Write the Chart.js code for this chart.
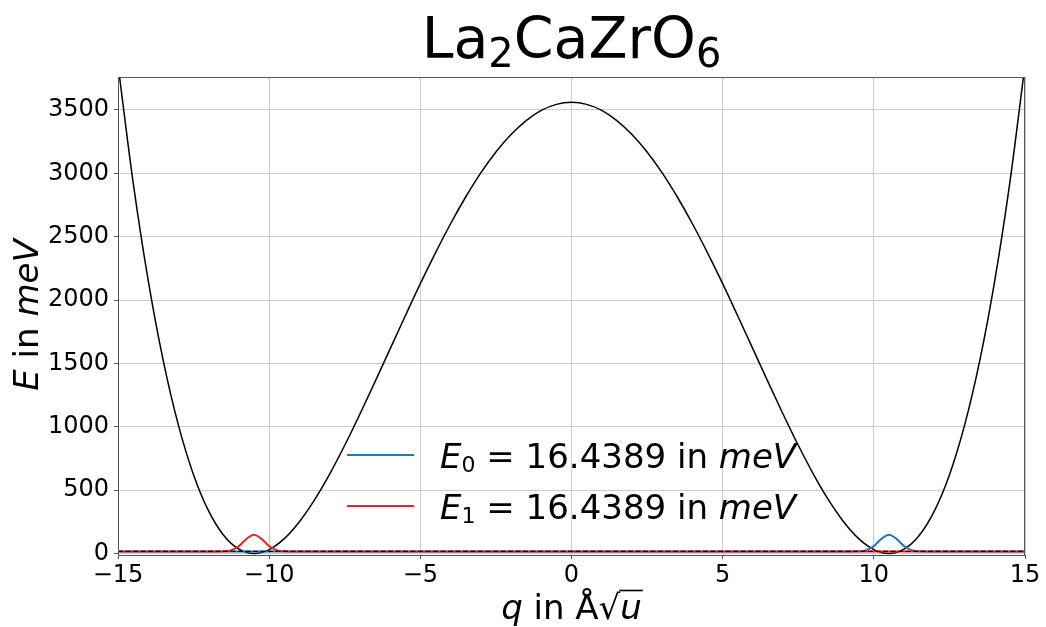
<!DOCTYPE html>
<html>
<head>
<meta charset="utf-8">
<script src="https://cdn.jsdelivr.net/npm/chart.js@4.4.1/dist/chart.umd.min.js"></script>
<style>
  html, body { margin: 0; padding: 0; background: #ffffff; }
  #wrap { width: 1046px; height: 627px; position: relative; }
</style>
</head>
<body>
<div id="wrap"><canvas id="c" width="1046" height="627"></canvas></div>
<script>
// ---------- data ----------
const qPot = [-15,-14.5,-14,-13.5,-13,-12.5,-12,-11.5,-11,-10.5,-10,-9.5,-9,-8.5,-8,-7.5,-7,-6.5,-6,-5.5,-5,-4.5,-4,-3.5,-3,-2.5,-2,-1.5,-1,-0.5,0,
              0.5,1,1.5,2,2.5,3,3.5,4,4.5,5,5.5,6,6.5,7,7.5,8,8.5,9,9.5,10,10.5,11,11.5,12,12.5,13,13.5,14,14.5,15];
const ePot = [3857,2929,2154,1518,1011,620,334,142,34,0,31,117,251,423,627,854,1099,1354,1615,1874,2129,2372,2602,2813,3003,3168,3306,3416,3496,3544,3560,
              3544,3496,3416,3306,3168,3003,2813,2602,2372,2129,1874,1615,1354,1099,854,627,423,251,117,31,0,34,142,334,620,1011,1518,2154,2929,3857];

const E0 = 16.4389;
const E1 = 16.4389;

const qPsi0 = [-15, 9, 9.25, 9.5, 9.75, 10, 10.25, 10.5, 10.75, 11, 11.25, 11.5, 11.75, 12, 15];
const ePsi0 = [16.44, 16.44, 16.5, 17.7, 26.4, 58.4, 115.4, 148.4, 115.4, 58.4, 26.4, 17.7, 16.5, 16.44, 16.44];
const qPsi1 = [-15, -12, -11.75, -11.5, -11.25, -11, -10.75, -10.5, -10.25, -10, -9.75, -9.5, -9.25, -9, 15];
const ePsi1 = [16.44, 16.44, 16.5, 17.7, 26.4, 58.4, 115.4, 148.4, 115.4, 58.4, 26.4, 17.7, 16.5, 16.44, 16.44];

const qLevel = [-15, 15];
const eLevel = [E0, E1];

const xTicks = [-15, -10, -5, 0, 5, 10, 15];
const yTicks = [0, 500, 1000, 1500, 2000, 2500, 3000, 3500];

const legendLabels = ['0', '1'];           // subscripts
const legendValues = [E0, E1];
// ---------------------------------------------------

const FONT = '"DejaVu Sans", "Liberation Sans", sans-serif';
const BLUE = '#1f77b4';
const RED = '#e8262a';
const FRAME = '#555555';

function pts(xs, ys) { return xs.map((x, i) => ({ x: x, y: ys[i] })); }

function drawRich(ctx, parts, x, y, align) {
  ctx.textBaseline = 'alphabetic';
  ctx.textAlign = 'left';
  let w = 0;
  parts.forEach(p => { ctx.font = p.font; p.w = ctx.measureText(p.t).width; w += p.w; });
  let cx = align === 'center' ? x - w / 2 : x;
  parts.forEach(p => {
    ctx.font = p.font;
    ctx.fillText(p.t, cx, y + (p.dy || 0));
    p.x0 = cx;
    cx += p.w;
  });
  return parts;
}

const decor = {
  id: 'decor',
  afterDatasetsDraw(chart) {
    const ctx = chart.ctx;
    const a = chart.chartArea;
    ctx.save();
    // frame
    ctx.strokeStyle = FRAME;
    ctx.lineWidth = 1;
    ctx.strokeRect(Math.round(a.left) + 0.5, Math.round(a.top) + 0.5,
                   Math.round(a.right - a.left) - 1, Math.round(a.bottom - a.top));
    ctx.fillStyle = '#000';
    const cxMid = (a.left + a.right) / 2;

    // title La2CaZrO6
    const tN = '57px ' + FONT, tS = '40px ' + FONT;
    drawRich(ctx, [
      { t: 'La', font: tN }, { t: '2', font: tS, dy: 8.5 },
      { t: 'CaZrO', font: tN }, { t: '6', font: tS, dy: 8.5 }
    ], cxMid, 58, 'center');

    // legend
    const lN = '34px ' + FONT, lI = 'italic 34px ' + FONT, lS = '22px ' + FONT;
    const colors = [BLUE, RED];
    const ys = [455, 506];
    for (let i = 0; i < 2; i++) {
      ctx.strokeStyle = colors[i];
      ctx.lineWidth = 2;
      ctx.beginPath();
      ctx.moveTo(347, ys[i]);
      ctx.lineTo(414, ys[i]);
      ctx.stroke();
      ctx.fillStyle = '#000';
      drawRich(ctx, [
        { t: 'E', font: lI }, { t: legendLabels[i], font: lS, dy: 4 },
        { t: ' = ' + legendValues[i].toFixed(4) + ' in ', font: lN },
        { t: 'meV', font: lI }
      ], 440, ys[i] + 12.5, 'left');
    }

    // y axis label
    ctx.save();
    ctx.translate(37.5, 315);
    ctx.rotate(-Math.PI / 2);
    drawRich(ctx, [
      { t: 'E', font: lI }, { t: ' in ', font: lN }, { t: 'meV', font: lI }
    ], 0, 0, 'center');
    ctx.restore();

    // x axis label  q in Å√u
    const parts = drawRich(ctx, [
      { t: 'q', font: lI }, { t: ' in Å', font: lN }, { t: '\u221A', font: lN }, { t: 'u', font: lI }
    ], cxMid, 619, 'center');
    const sq = parts[2], u = parts[3];
    ctx.strokeStyle = '#000';
    ctx.lineWidth = 1.6;
    ctx.beginPath();
    ctx.moveTo(sq.x0 + sq.w - 1, 619 - 28.5);
    ctx.lineTo(u.x0 + u.w + 1, 619 - 28.5);
    ctx.stroke();
    ctx.restore();
  }
};

const ctx = document.getElementById('c').getContext('2d');
new Chart(ctx, {
  type: 'scatter',
  data: {
    datasets: [
      { label: 'level', data: pts(qLevel, eLevel), showLine: true, borderColor: '#000', borderWidth: 1.4,
        borderDash: [5, 2.5], pointRadius: 0, fill: false },
      { label: 'psi1', data: pts(qPsi1, ePsi1), showLine: true, borderColor: RED, borderWidth: 2,
        pointRadius: 0, cubicInterpolationMode: 'monotone', fill: false },
      { label: 'psi0', data: pts(qPsi0, ePsi0), showLine: true, borderColor: BLUE, borderWidth: 2,
        pointRadius: 0, cubicInterpolationMode: 'monotone', fill: false },
      { label: 'V', data: pts(qPot, ePot), showLine: true, borderColor: '#000', borderWidth: 1.5,
        pointRadius: 0, cubicInterpolationMode: 'monotone', fill: false }
    ]
  },
  options: {
    responsive: false,
    animation: false,
    events: [],
    layout: { padding: { top: 77, right: 21, left: 0, bottom: 0 } },
    plugins: { legend: { display: false }, title: { display: false }, tooltip: { enabled: false } },
    scales: {
      x: {
        type: 'linear', min: -15, max: 15,
        afterBuildTicks(s) { s.ticks = xTicks.map(v => ({ value: v })); },
        afterFit(s) { s.height = 72; },
        grid: { color: '#cccccc', lineWidth: 1, drawTicks: true, tickLength: 4, tickColor: FRAME },
        border: { display: true, color: FRAME },
        ticks: {
          color: '#000', font: { family: FONT, size: 24 }, padding: 2, maxRotation: 0,
          callback: v => v < 0 ? '\u2212' + Math.abs(v) : String(v)
        }
      },
      y: {
        type: 'linear', min: -12, max: 3760,
        afterBuildTicks(s) { s.ticks = yTicks.map(v => ({ value: v })); },
        afterFit(s) { s.width = 118; },
        grid: { color: '#cccccc', lineWidth: 1, drawTicks: true, tickLength: 4, tickColor: FRAME },
        border: { display: true, color: FRAME },
        ticks: {
          color: '#000', font: { family: FONT, size: 24 }, padding: 5,
          callback: v => String(v)
        }
      }
    }
  },
  plugins: [decor]
});
</script>
</body>
</html>
